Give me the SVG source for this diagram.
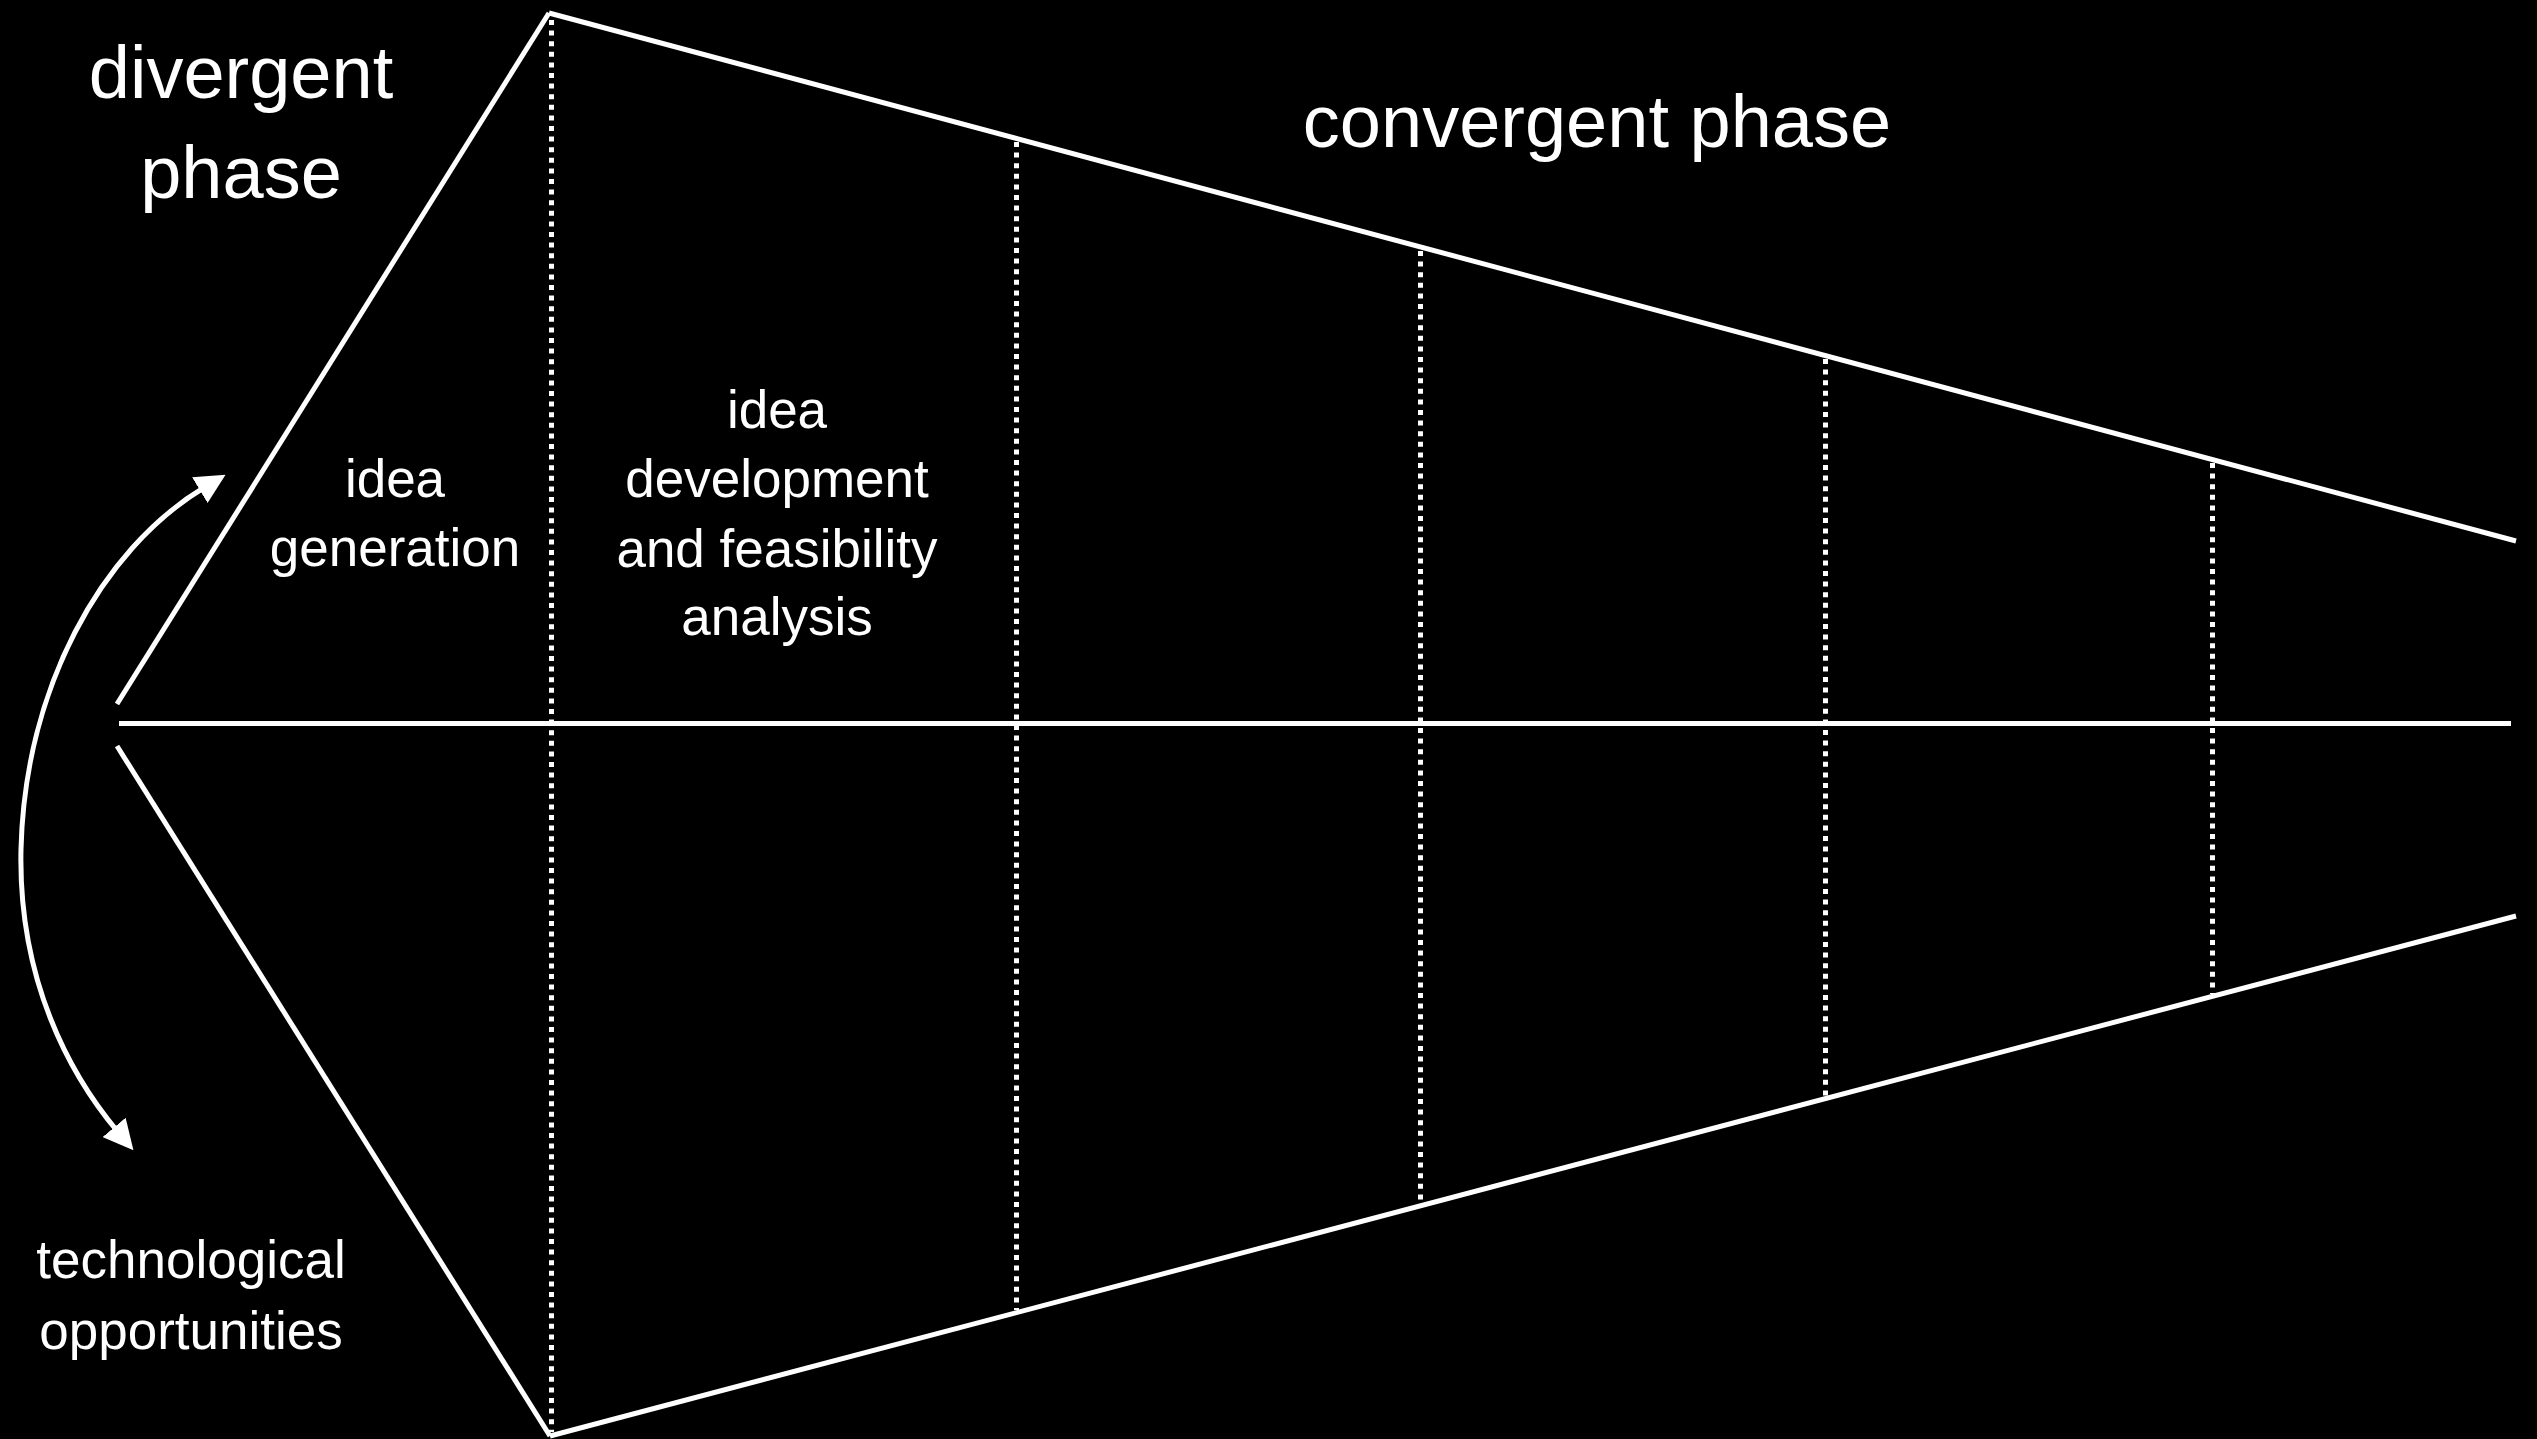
<svg xmlns="http://www.w3.org/2000/svg" width="2537" height="1439" viewBox="0 0 2537 1439">
  <style>
    .solid { stroke: #ffffff; stroke-width: 5; fill: none; }
    .dotted { stroke: #ffffff; stroke-width: 5; fill: none; stroke-dasharray: 5 5.6; }
    .big { font-family: "Liberation Sans", Arial, sans-serif; font-size: 74px; fill: #ffffff; text-anchor: middle; }
    .small { font-family: "Liberation Sans", Arial, sans-serif; font-size: 53px; fill: #ffffff; text-anchor: middle; }
  </style>
  <defs>
    <marker id="arrow" viewBox="0 0 10 10" refX="2" refY="5" markerWidth="6" markerHeight="6" markerUnits="strokeWidth" orient="auto-start-reverse">
      <path d="M0,0 L10,5 L0,10 Z" fill="#ffffff"/>
    </marker>
  </defs>
  <rect x="0" y="0" width="2537" height="1439" fill="#000000"/>

  <g id="funnel">
    <line class="solid" x1="117" y1="704" x2="549" y2="13"/>
    <line class="solid" x1="117" y1="746" x2="550" y2="1436"/>
    <line class="solid" x1="549" y1="13" x2="2516" y2="541"/>
    <line class="solid" x1="550" y1="1436" x2="2516" y2="916"/>
    <line class="solid" x1="119" y1="723.5" x2="2511" y2="723.5"/>
  </g>

  <g id="stages">
    <line class="dotted" x1="551.5" y1="20" x2="551.5" y2="1432"/>
    <line class="dotted" x1="1016.5" y1="142" x2="1016.5" y2="1310"/>
    <line class="dotted" x1="1420.5" y1="251" x2="1420.5" y2="1204"/>
    <line class="dotted" x1="1825.5" y1="359" x2="1825.5" y2="1096"/>
    <line class="dotted" x1="2212.5" y1="463" x2="2212.5" y2="994"/>
  </g>

  <g id="connectors">
    <path class="solid" marker-start="url(#arrow)" marker-end="url(#arrow)" d="M205,487 C100,550 25,690 21,849 C18,980 70,1075 118,1132"/>
  </g>

  <g id="label-divergent">
    <text class="big" x="241" y="98">divergent</text>
    <text class="big" x="241" y="198">phase</text>
  </g>
  <g id="label-convergent">
    <text class="big" x="1597" y="147">convergent phase</text>
  </g>
  <g id="label-idea-generation">
    <text class="small" x="395" y="497">idea</text>
    <text class="small" x="395" y="566">generation</text>
  </g>
  <g id="label-idea-development">
    <text class="small" x="777" y="428">idea</text>
    <text class="small" x="777" y="497">development</text>
    <text class="small" x="777" y="567">and feasibility</text>
    <text class="small" x="777" y="635">analysis</text>
  </g>
  <g id="label-technological">
    <text class="small" x="191" y="1278">technological</text>
    <text class="small" x="191" y="1349">opportunities</text>
  </g>
</svg>
